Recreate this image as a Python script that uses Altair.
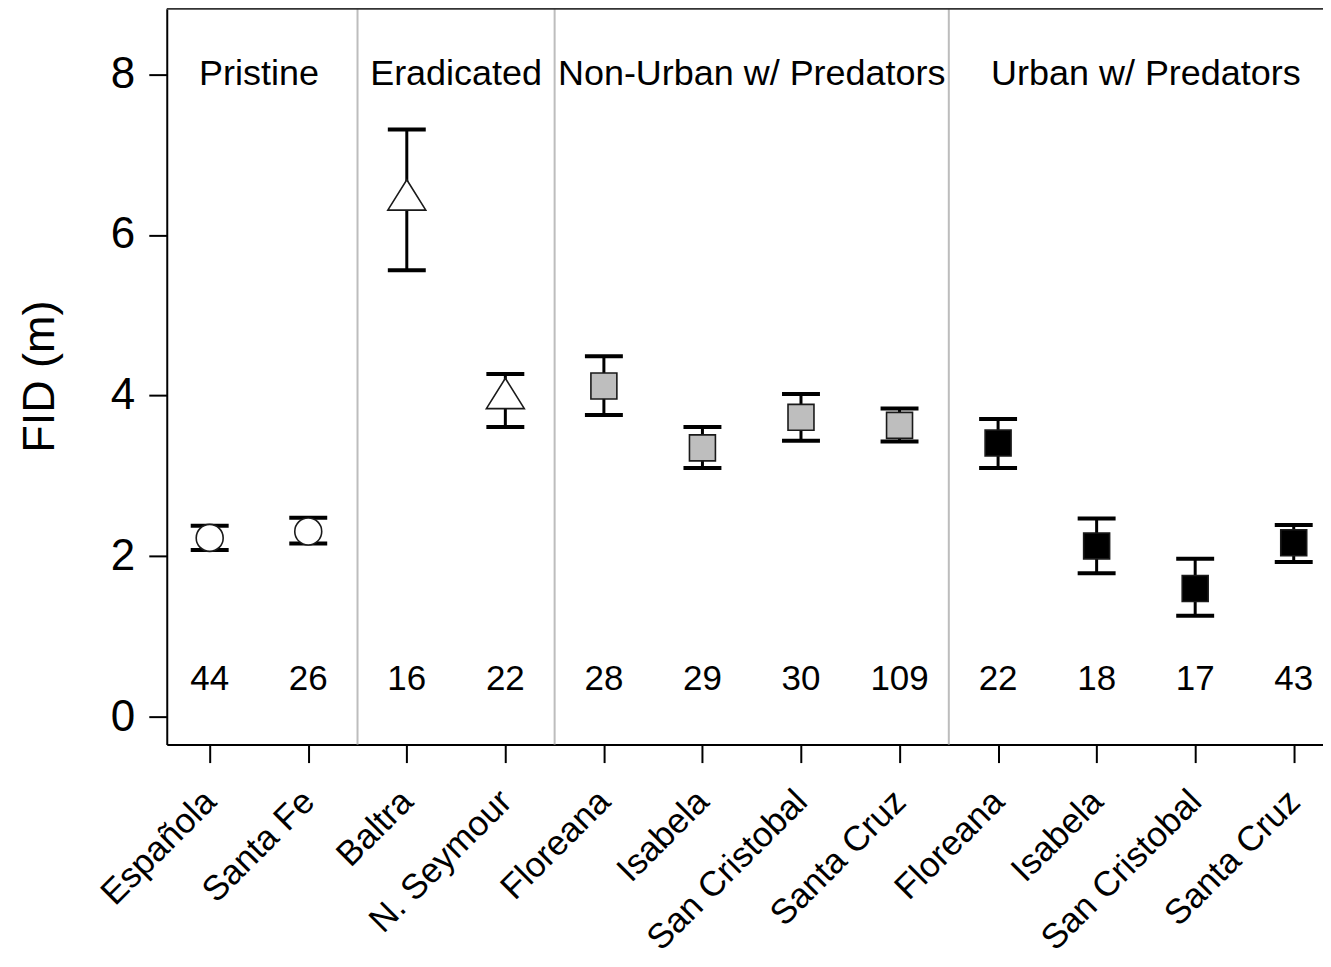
import altair as alt
import pandas as pd

# ---- data ----
sites = ["Española", "Santa Fe", "Baltra", "N. Seymour", "Floreana", "Isabela",
         "San Cristobal", "Santa Cruz", "Floreana", "Isabela", "San Cristobal", "Santa Cruz"]
habitat = (["Pristine"] * 2 + ["Eradicated"] * 2 +
           ["Non-Urban w/ Predators"] * 4 + ["Urban w/ Predators"] * 4)
fid_mean = [2.23, 2.31, 6.45, 3.98, 4.12, 3.35, 3.73, 3.63, 3.41, 2.13, 1.60, 2.17]
fid_low = [2.08, 2.16, 5.56, 3.61, 3.76, 3.10, 3.44, 3.43, 3.10, 1.79, 1.26, 1.93]
fid_high = [2.38, 2.48, 7.31, 4.27, 4.49, 3.61, 4.02, 3.84, 3.71, 2.47, 1.97, 2.39]
n_obs = [44, 26, 16, 22, 28, 29, 30, 109, 22, 18, 17, 43]
group_order = ["Pristine", "Eradicated", "Non-Urban w/ Predators", "Urban w/ Predators"]
group_label_y = 8.0
n_label_y = 0.48

W, H = 1158, 737

df = pd.DataFrame({
    "i": list(range(len(sites))), "site": sites, "habitat": habitat,
    "mean": fid_mean, "lo": fid_low, "hi": fid_high,
    "n": [str(v) for v in n_obs], "ny": [n_label_y] * len(sites),
})

idx_by_group = {g: [k for k, h in enumerate(habitat) if h == g] for g in group_order}
gdf = pd.DataFrame({
    "i": [sum(v) / len(v) for v in idx_by_group.values()],
    "label": group_order,
    "gy": [group_label_y] * len(group_order),
})
seps = []
for a, b in zip(group_order[:-1], group_order[1:]):
    seps.append((max(idx_by_group[a]) + min(idx_by_group[b])) / 2)
sdf = pd.DataFrame({"i": seps})

xs = alt.Scale(domain=[-0.4357, 11.297], nice=False, zero=False)
ys = alt.Scale(domain=[-0.342, 8.814], nice=False, zero=False)

label_arr = "[" + ",".join("'" + s + "'" for s in sites) + "]"
xaxis = alt.Axis(title=None, values=list(range(len(sites))),
                 labelExpr=label_arr + "[datum.value]",
                 labelAngle=-45, labelAlign="right", labelBaseline="middle",
                 labelFontSize=35, labelPadding=33, labelColor="black",
                 labelFlush=False, labelOverlap=False, labelLimit=0, labelBound=False,
                 tickSize=18, tickWidth=2, tickColor="black",
                 domainColor="black", domainWidth=2, grid=False)
yaxis = alt.Axis(title="FID (m)", values=[0, 2, 4, 6, 8],
                 labelFontSize=44, labelPadding=14, labelColor="black",
                 tickSize=18, tickWidth=2, tickColor="black",
                 domainColor="black", domainWidth=2, grid=False,
                 titleFontSize=45, titleFontWeight="normal", titleColor="black",
                 titleAngle=-90, titleX=-127, titleY=368,
                 titleAlign="center", titleBaseline="middle")

X = alt.X("i:Q", scale=xs, axis=xaxis)

base = alt.Chart(df)

seprules = alt.Chart(sdf).mark_rule(color="#bdbdbd", strokeWidth=2).encode(
    x=X, y=alt.value(0), y2=alt.value(H))

topline = alt.Chart(pd.DataFrame({"z": [0]})).mark_rule(color="#333333", strokeWidth=2).encode(
    x=alt.value(0), x2=alt.value(W), y=alt.value(0))

bars = base.mark_rule(color="black", strokeWidth=3).encode(
    x=X, y=alt.Y("lo:Q", scale=ys, axis=yaxis), y2="hi:Q")

cap_lo = base.mark_tick(orient="horizontal", size=38, thickness=4, color="black", opacity=1).encode(
    x=X, y=alt.Y("lo:Q", scale=ys, axis=yaxis))
cap_hi = base.mark_tick(orient="horizontal", size=38, thickness=4, color="black", opacity=1).encode(
    x=X, y=alt.Y("hi:Q", scale=ys, axis=yaxis))

tri = "M0,-1L1,0.6L-1,0.6Z"
marker_style = {
    "Pristine": dict(shape="circle", size=729, fill="white"),
    "Eradicated": dict(shape=tri, size=1444, fill="white"),
    "Non-Urban w/ Predators": dict(shape="square", size=676, fill="#bebebe"),
    "Urban w/ Predators": dict(shape="square", size=676, fill="black"),
}
point_layers = []
for g in group_order:
    st = marker_style[g]
    point_layers.append(
        base.transform_filter(alt.datum.habitat == g).mark_point(
            filled=True, shape=st["shape"], size=st["size"], fill=st["fill"],
            stroke="#1a1a1a", strokeWidth=1.6, opacity=1
        ).encode(x=X, y=alt.Y("mean:Q", scale=ys, axis=yaxis))
    )

ntext = base.mark_text(fontSize=35, color="black", align="center", baseline="middle").encode(
    x=X, y=alt.Y("ny:Q", scale=ys, axis=yaxis), text="n:N")

gtext = alt.Chart(gdf).mark_text(fontSize=36, color="black", align="center", baseline="middle").encode(
    x=X, y=alt.Y("gy:Q", scale=ys, axis=yaxis), text="label:N")

chart = alt.layer(seprules, topline, bars, cap_lo, cap_hi, *point_layers, ntext, gtext).properties(
    width=W, height=H, autosize="none",
    padding={"left": 159, "top": 0, "right": 0, "bottom": 211},
).configure(font="Liberation Sans").configure_view(strokeWidth=0)

chart.save("out.html", embed_options={"renderer": "svg", "actions": False})
